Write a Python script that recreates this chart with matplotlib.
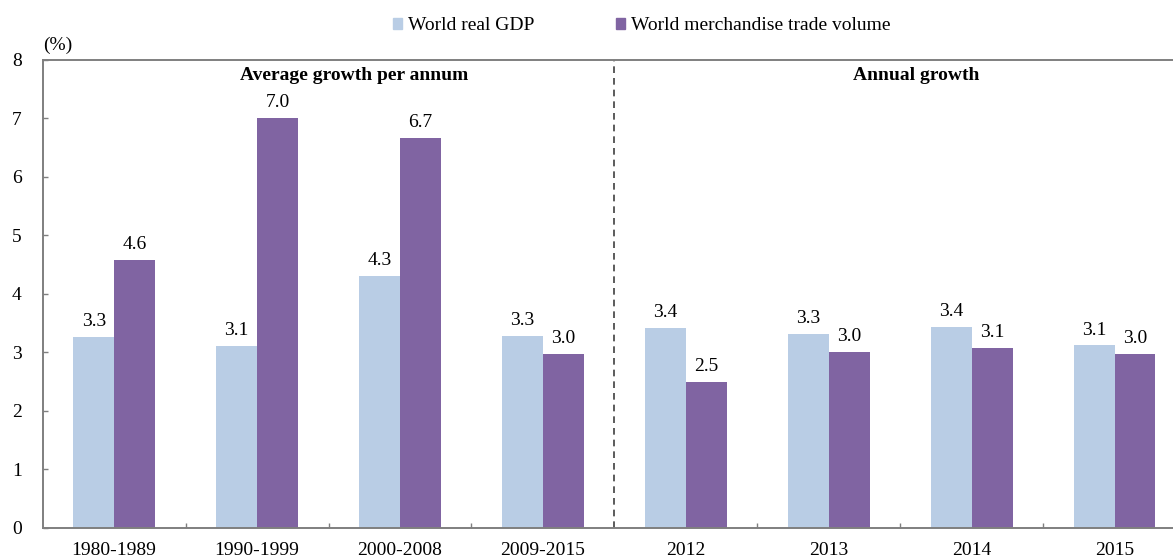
import matplotlib
matplotlib.use('Agg')

import matplotlib.pyplot as plt
from matplotlib.patches import Patch

plt.rcParams['font.family'] = ['Liberation Serif', 'DejaVu Serif']
plt.rcParams['font.size'] = 14

periods = ['1980-1989', '1990-1999', '2000-2008', '2009-2015', '2012', '2013', '2014', '2015']
gdp = [3.26, 3.11, 4.31, 3.28, 3.42, 3.31, 3.43, 3.12]
trade = [4.58, 7.01, 6.66, 2.97, 2.50, 3.01, 3.07, 2.97]
sections = ['Average growth per annum', 'Annual growth']

gdp_color = '#B9CDE5'
trade_color = '#8064A2'
axis_color = '#7F7F7F'

fig = plt.figure(figsize=(11.73, 5.58), dpi=100)
ax = fig.add_axes([0.0364, 0.0538, 0.9636, 0.8387])

x = list(range(len(periods)))
w = 0.286

b1 = ax.bar([i - w / 2 for i in x], gdp, w, color=gdp_color, zorder=2)
b2 = ax.bar([i + w / 2 for i in x], trade, w, color=trade_color, zorder=2)

# value labels on top of each bar
for bars, vals in ((b1, gdp), (b2, trade)):
    for rect, v in zip(bars, vals):
        ax.annotate('%.1f' % v, (rect.get_x() + rect.get_width() / 2, v),
                    xytext=(0, 5), textcoords='offset points',
                    ha='center', va='bottom', fontsize=14)

ax.set_ylim(0, 8)
ax.set_xlim(-0.5, 7.409)

# separator between averages and single years
ax.axvline(3.5, color='#404040', lw=1.2, linestyle=(0, (4, 3)), zorder=1)

ax.text(1.68, 7.74, sections[0], ha='center', va='center', fontweight='bold')
ax.text(5.61, 7.74, sections[1], ha='center', va='center', fontweight='bold')

ax.set_yticks(range(0, 9))
ax.tick_params(axis='y', direction='in', length=3.6, width=1, color=axis_color, pad=15)

# group boundaries as major ticks, category names as minor ticks
ax.set_xticks([0.5, 1.5, 2.5, 4.5, 5.5, 6.5])
ax.set_xticklabels([])
ax.set_xticks(x, minor=True)
ax.set_xticklabels(periods, minor=True)
ax.tick_params(axis='x', which='major', direction='in', length=3.6, width=1, color=axis_color)
ax.tick_params(axis='x', which='minor', length=0, pad=10)

for side in ('left', 'bottom', 'top'):
    ax.spines[side].set_color(axis_color)
    ax.spines[side].set_linewidth(1.4)
ax.spines['right'].set_visible(False)

fig.text(43 / 1173, 1 - 45 / 558, '(%)', ha='left', va='center', fontsize=14)

handles = [Patch(color=gdp_color), Patch(color=trade_color)]
fig.legend(handles, ['World real GDP', 'World merchandise trade volume'],
           loc='center', bbox_to_anchor=(641.5 / 1173, 1 - 26 / 558), ncol=2,
           frameon=False, handlelength=0.47, handleheight=0.47,
           handletextpad=0.3, columnspacing=4.2, borderpad=0, fontsize=14)

plt.savefig('out.png', dpi=100)
